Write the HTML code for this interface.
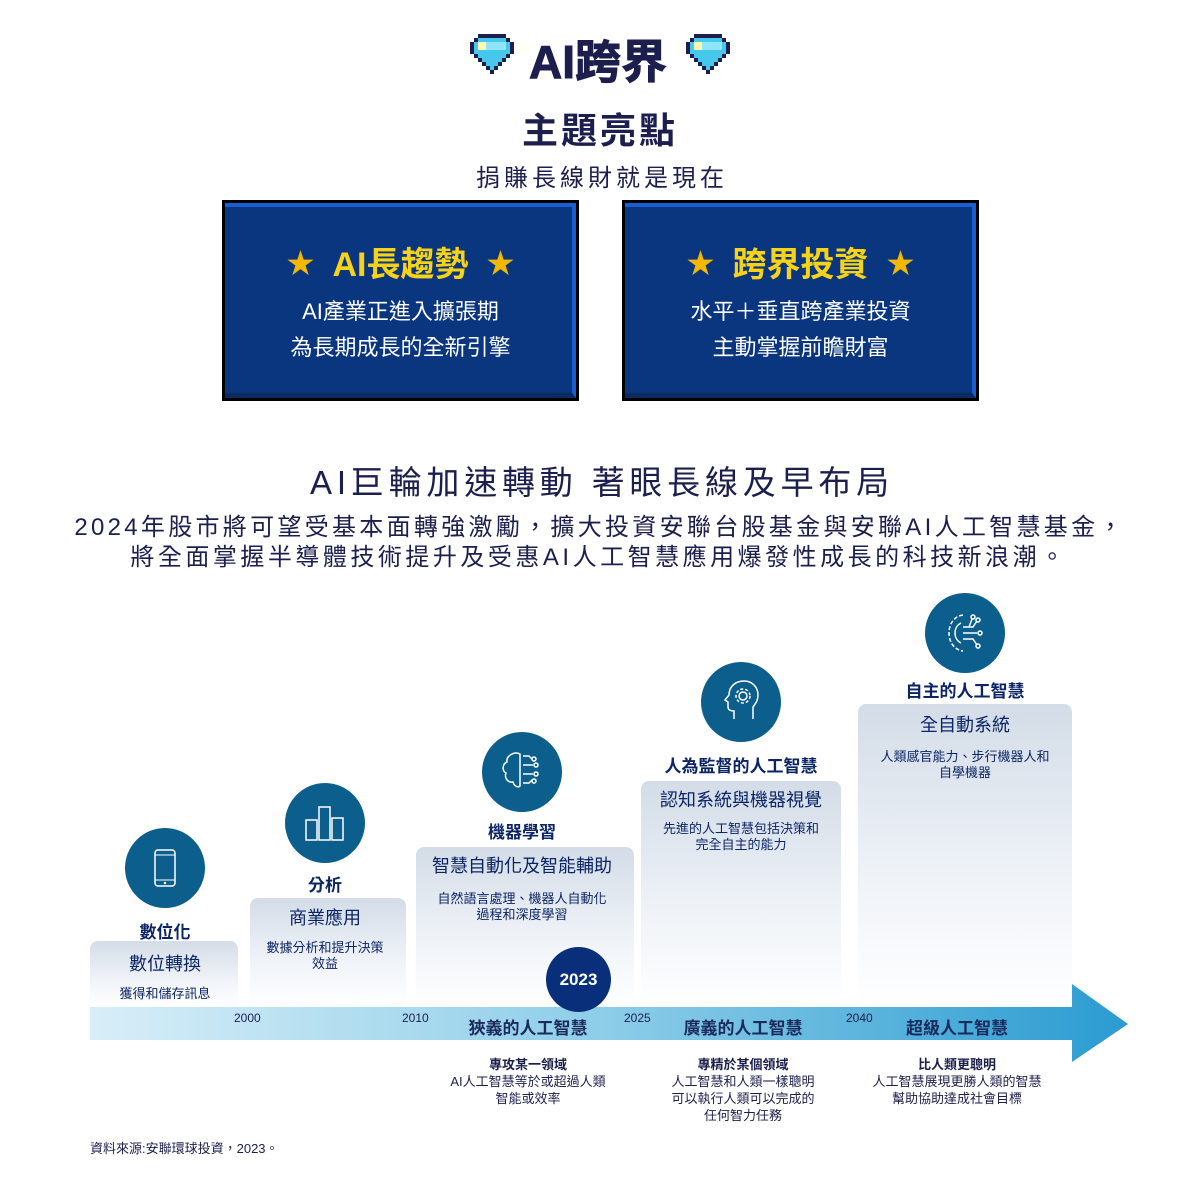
<!DOCTYPE html>
<html><head><meta charset="utf-8"><style>
*{margin:0;padding:0;box-sizing:border-box}
body{width:1200px;height:1198px;background:#fff;position:relative;overflow:hidden;font-family:"Liberation Sans","Noto Sans CJK TC",sans-serif;color:#1c1f4e}
.a{position:absolute;white-space:nowrap}
.c{transform:translateX(-50%)}
.box{position:absolute;top:200px;width:357px;height:201px;background:#000;}
.box .in{position:absolute;left:3px;top:3px;right:3px;bottom:3px;background:#0a3680;border-top:4px solid #1a5fd0;border-right:4px solid #1a5fd0;border-bottom:5px solid #0a2a60;}
.box .t{position:absolute;left:0;right:0;top:37px;text-align:center;color:#f7d216;font-size:34px;font-weight:bold}
.box .l{position:absolute;left:0;right:0;text-align:center;color:#fff;font-size:22px}
.star{color:#f5b800;font-size:28px;margin:0 18px;vertical-align:3px}
.card{position:absolute;border-radius:8px;background:linear-gradient(#d3dce7,#eef2f7 55%,rgba(255,255,255,0.9));}
.circ{position:absolute;width:80px;height:80px;border-radius:50%;background:#0c5e8d;}
.lab{font-weight:bold;font-size:17px;color:#0b2466}
.ct{font-size:18px;color:#0b2466}
.cd{font-size:13px;color:#0b2466;text-align:center;line-height:16px}
.yr{font-size:12px;color:#1c1f4e}
.bl{font-size:17px;font-weight:bold;color:#1b2a5c}
.bt{font-size:13px;color:#1c1f4e;text-align:center;line-height:17px}
</style></head><body>
<svg class="a" style="left:470px;top:34px" width="44" height="40" viewBox="0 0 11 10"><path d="M2 0h7v1h1v1h1v3h-1v1h-1v1h-1v1h-1v1h-1v1h-1v-1h-1v-1h-1v-1h-1v-1h-1v-1h-1v-3h1v-1h1z" fill="#1c1f4e"/><path d="M2 1h7v1h1v3h-1v1h-1v1h-1v1h-1v1h-1v-1h-1v-1h-1v-1h-1v-1h-1v-3h1z" fill="#45c8ec"/><rect x="2" y="2" width="2" height="2" fill="#fff6b0"/><rect x="4" y="2" width="5" height="2" fill="#8fe6fb"/></svg>
<svg class="a" style="left:686px;top:34px" width="44" height="40" viewBox="0 0 11 10"><path d="M2 0h7v1h1v1h1v3h-1v1h-1v1h-1v1h-1v1h-1v1h-1v-1h-1v-1h-1v-1h-1v-1h-1v-1h-1v-3h1v-1h1z" fill="#1c1f4e"/><path d="M2 1h7v1h1v3h-1v1h-1v1h-1v1h-1v1h-1v-1h-1v-1h-1v-1h-1v-1h-1v-3h1z" fill="#45c8ec"/><rect x="2" y="2" width="2" height="2" fill="#fff6b0"/><rect x="4" y="2" width="5" height="2" fill="#8fe6fb"/></svg>
<div class="a c" style="left:598px;top:26px;font-size:46px;font-weight:bold;color:#1c1f4e;-webkit-text-stroke:1px #1c1f4e">AI跨界</div>
<div class="a c" style="left:600px;top:102px;font-size:36px;font-weight:bold;letter-spacing:3px">主題亮點</div>
<div class="a c" style="left:602px;top:158px;font-size:24px;letter-spacing:4px">捐賺長線財就是現在</div>

<div class="box" style="left:222px"><div class="in"></div>
<div class="t"><span class="star">★</span>AI長趨勢<span class="star">★</span></div>
<div class="l" style="top:94px">AI產業正進入擴張期</div>
<div class="l" style="top:130px">為長期成長的全新引擎</div></div>
<div class="box" style="left:622px"><div class="in"></div>
<div class="t"><span class="star">★</span>跨界投資<span class="star">★</span></div>
<div class="l" style="top:94px">水平＋垂直跨產業投資</div>
<div class="l" style="top:130px">主動掌握前瞻財富</div></div>

<div class="a c" style="left:602px;top:456px;font-size:33px;letter-spacing:4.8px">AI巨輪加速轉動 著眼長線及早布局</div>
<div class="a c" style="left:600px;top:507px;font-size:24px;letter-spacing:3.3px">2024年股市將可望受基本面轉強激勵，擴大投資安聯台股基金與安聯AI人工智慧基金，</div>
<div class="a c" style="left:599px;top:537px;font-size:24px;letter-spacing:3.5px">將全面掌握半導體技術提升及受惠AI人工智慧應用爆發性成長的科技新浪潮。</div>

<div class="card" style="left:90px;top:941px;width:148px;height:66px"></div>
<div class="card" style="left:250px;top:898px;width:156px;height:109px"></div>
<div class="card" style="left:416px;top:847px;width:218px;height:160px"></div>
<div class="card" style="left:641px;top:781px;width:200px;height:226px"></div>
<div class="card" style="left:858px;top:704px;width:214px;height:303px"></div>

<svg class="a" style="left:90px;top:984px" width="1040" height="80"><defs><linearGradient id="g" x1="0" x2="1"><stop offset="0" stop-color="#d8eef8"/><stop offset="0.5" stop-color="#8ccde8"/><stop offset="1" stop-color="#2a9bd1"/></linearGradient></defs><path d="M0 23H982V0L1038 40L982 78V56H0Z" fill="url(#g)"/></svg>

<div class="circ" style="left:125px;top:828px"><svg width="80" height="80"><rect x="30" y="22" width="20" height="36" rx="3" fill="none" stroke="#fff" stroke-width="1.5"/><line x1="30" y1="27" x2="50" y2="27" stroke="#fff"/><line x1="30" y1="52" x2="50" y2="52" stroke="#fff"/><circle cx="40" cy="55" r="1.2" fill="#fff"/></svg></div>
<div class="circ" style="left:285px;top:783px"><svg width="80" height="80"><rect x="21" y="37" width="11" height="20" fill="none" stroke="#fff" stroke-width="1.5"/><rect x="34" y="24" width="11" height="33" fill="none" stroke="#fff" stroke-width="1.5"/><rect x="47" y="35" width="11" height="22" fill="none" stroke="#fff" stroke-width="1.5"/></svg></div>
<div class="circ" style="left:482px;top:732px"><svg width="80" height="80" fill="none" stroke="#fff" stroke-width="1.5"><path d="M38 22c-6-3-14 2-13 8-5 2-5 9-1 11-2 5 2 10 7 9 1 4 5 6 7 4z"/><path d="M41 24h6l3 3M41 33h10M41 42h10M41 51h6l3-3"/><circle cx="52" cy="27" r="2"/><circle cx="54" cy="33" r="2"/><circle cx="54" cy="42" r="2"/><circle cx="52" cy="49" r="2"/></svg></div>
<div class="circ" style="left:701px;top:662px"><svg width="80" height="80" fill="none" stroke="#fff" stroke-width="1.5"><path d="M33 57v-8c-3 0-6-1-6-4v-5l-3-2 4-5c0-9 7-14 15-14 9 0 14 7 14 14 0 6-3 9-5 12v12"/><circle cx="42" cy="34" r="4"/><circle cx="42" cy="34" r="7" stroke-dasharray="3 2"/></svg></div>
<div class="circ" style="left:925px;top:593px"><svg width="80" height="80" fill="none" stroke="#fff" stroke-width="1.5"><path d="M38 22c-8 1-14 8-14 18s6 17 14 18" stroke-dasharray="4 2"/><path d="M36 30c-4 2-6 6-6 10s2 8 6 10"/><path d="M38 34h10l4-6M38 40h14M38 46h10l4 6M44 34l3-8"/><circle cx="53" cy="27" r="2"/><circle cx="55" cy="40" r="2"/><circle cx="53" cy="53" r="2"/><circle cx="48" cy="24" r="2"/></svg></div>
<div class="a" style="left:546px;top:947px;width:65px;height:65px;border-radius:50%;background:#0a2f7a;color:#fff;font-weight:bold;font-size:17px;text-align:center;line-height:65px">2023</div>

<div class="a c lab" style="left:165px;top:918px">數位化</div>
<div class="a c ct" style="left:165px;top:950px">數位轉換</div>
<div class="a c cd" style="left:165px;top:986px">獲得和儲存訊息</div>
<div class="a c lab" style="left:325px;top:871px">分析</div>
<div class="a c ct" style="left:325px;top:904px">商業應用</div>
<div class="a c cd" style="left:325px;top:940px">數據分析和提升決策<br>效益</div>
<div class="a c lab" style="left:522px;top:818px">機器學習</div>
<div class="a c ct" style="left:522px;top:852px">智慧自動化及智能輔助</div>
<div class="a c cd" style="left:522px;top:891px">自然語言處理、機器人自動化<br>過程和深度學習</div>
<div class="a c lab" style="left:741px;top:752px">人為監督的人工智慧</div>
<div class="a c ct" style="left:741px;top:786px">認知系統與機器視覺</div>
<div class="a c cd" style="left:741px;top:821px">先進的人工智慧包括決策和<br>完全自主的能力</div>
<div class="a c lab" style="left:965px;top:677px">自主的人工智慧</div>
<div class="a c ct" style="left:965px;top:711px">全自動系統</div>
<div class="a c cd" style="left:965px;top:749px">人類感官能力、步行機器人和<br>自學機器</div>

<div class="a yr" style="left:234px;top:1011px">2000</div>
<div class="a yr" style="left:402px;top:1011px">2010</div>
<div class="a yr" style="left:624px;top:1011px">2025</div>
<div class="a yr" style="left:846px;top:1011px">2040</div>
<div class="a c bl" style="left:528px;top:1014px">狹義的人工智慧</div>
<div class="a c bl" style="left:743px;top:1014px">廣義的人工智慧</div>
<div class="a c bl" style="left:957px;top:1014px">超級人工智慧</div>

<div class="a c bt" style="left:528px;top:1056px"><b>專攻某一領域</b><br>AI人工智慧等於或超過人類<br>智能或效率</div>
<div class="a c bt" style="left:743px;top:1056px"><b>專精於某個領域</b><br>人工智慧和人類一樣聰明<br>可以執行人類可以完成的<br>任何智力任務</div>
<div class="a c bt" style="left:957px;top:1056px"><b>比人類更聰明</b><br>人工智慧展現更勝人類的智慧<br>幫助協助達成社會目標</div>
<div class="a" style="left:90px;top:1138px;font-size:13px">資料來源:安聯環球投資，2023。</div>
</body></html>
